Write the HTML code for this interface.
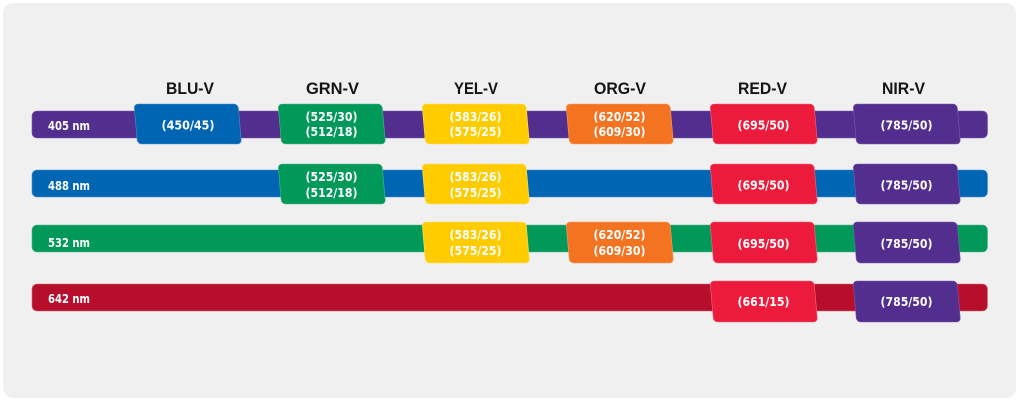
<!DOCTYPE html>
<html><head><meta charset="utf-8">
<style>
html,body{margin:0;padding:0;background:#fff;}
svg{display:block;}
.h{font-family:"Liberation Sans",sans-serif;font-weight:bold;font-size:16.5px;fill:#141414;}
.b{font-family:"DejaVu Sans","Liberation Sans",sans-serif;font-weight:bold;font-size:12px;fill:#fff;}
.l{font-family:"DejaVu Sans","Liberation Sans",sans-serif;font-weight:bold;font-size:12px;fill:#fff;}
</style></head>
<body>
<svg width="1024" height="403" viewBox="0 0 1024 403" xmlns="http://www.w3.org/2000/svg">
<rect x="3" y="3" width="1013" height="395" rx="10" fill="#f0f0f0"/>

<!-- headers -->
<text class="h" x="166" y="94" textLength="48" lengthAdjust="spacingAndGlyphs">BLU-V</text>
<text class="h" x="306" y="94" textLength="53" lengthAdjust="spacingAndGlyphs">GRN-V</text>
<text class="h" x="454" y="94" textLength="44" lengthAdjust="spacingAndGlyphs">YEL-V</text>
<text class="h" x="594" y="94" textLength="52" lengthAdjust="spacingAndGlyphs">ORG-V</text>
<text class="h" x="738" y="94" textLength="49" lengthAdjust="spacingAndGlyphs">RED-V</text>
<text class="h" x="882" y="94" textLength="43" lengthAdjust="spacingAndGlyphs">NIR-V</text>

<!-- bars -->
<rect x="32" y="111" width="955.5" height="27" rx="5" fill="#522e8f" stroke="#7a5cab" stroke-width="0.6"/>
<rect x="32" y="170" width="955.5" height="27" rx="5" fill="#0066b3" stroke="#4a8fcb" stroke-width="0.6"/>
<rect x="32" y="225" width="955.5" height="27" rx="5" fill="#00995a" stroke="#4fb888" stroke-width="0.6"/>
<rect x="32" y="284" width="955.5" height="27" rx="5" fill="#b70f2b" stroke="#d46a7a" stroke-width="0.6"/>

<text class="l" x="48" y="130" textLength="42" lengthAdjust="spacingAndGlyphs">405 nm</text>
<text class="l" x="48" y="190" textLength="42" lengthAdjust="spacingAndGlyphs">488 nm</text>
<text class="l" x="48" y="247" textLength="42" lengthAdjust="spacingAndGlyphs">532 nm</text>
<text class="l" x="48" y="303" textLength="42" lengthAdjust="spacingAndGlyphs">642 nm</text>

<!-- Row 1 boxes (T=104,H=40) -->
<g transform="translate(134,104) skewX(5)"><rect width="104" height="40" rx="4" fill="#0066b3" stroke="#4a8fcb" stroke-width="0.6"/></g>
<text class="b" x="161.5" y="129.5" textLength="53" lengthAdjust="spacingAndGlyphs">(450/45)</text>

<g transform="translate(278,104) skewX(5)"><rect width="104" height="40" rx="4" fill="#00995a" stroke="#4fb888" stroke-width="0.6"/></g>
<text class="b" x="305.5" y="121" textLength="52" lengthAdjust="spacingAndGlyphs">(525/30)</text>
<text class="b" x="305.5" y="136" textLength="52" lengthAdjust="spacingAndGlyphs">(512/18)</text>

<g transform="translate(422,104) skewX(5)"><rect width="104" height="40" rx="4" fill="#ffcc00" stroke="#ffe066" stroke-width="0.6"/></g>
<text class="b" x="449.5" y="121" textLength="52" lengthAdjust="spacingAndGlyphs">(583/26)</text>
<text class="b" x="449.5" y="136" textLength="52" lengthAdjust="spacingAndGlyphs">(575/25)</text>

<g transform="translate(566,104) skewX(5)"><rect width="104" height="40" rx="4" fill="#f47321" stroke="#f8a06a" stroke-width="0.6"/></g>
<text class="b" x="593.5" y="121" textLength="52" lengthAdjust="spacingAndGlyphs">(620/52)</text>
<text class="b" x="593.5" y="136" textLength="52" lengthAdjust="spacingAndGlyphs">(609/30)</text>

<g transform="translate(710,104) skewX(5)"><rect width="104" height="40" rx="4" fill="#ec1a3b" stroke="#f26a80" stroke-width="0.6"/></g>
<text class="b" x="737.5" y="129.5" textLength="52" lengthAdjust="spacingAndGlyphs">(695/50)</text>

<g transform="translate(853,104) skewX(5)"><rect width="104" height="40" rx="4" fill="#522e8f" stroke="#7a5cab" stroke-width="0.6"/></g>
<text class="b" x="880.5" y="129.5" textLength="52" lengthAdjust="spacingAndGlyphs">(785/50)</text>

<!-- Row 2 boxes (T=164,H=40) -->
<g transform="translate(278,164) skewX(5)"><rect width="104" height="40" rx="4" fill="#00995a" stroke="#4fb888" stroke-width="0.6"/></g>
<text class="b" x="305.5" y="181" textLength="52" lengthAdjust="spacingAndGlyphs">(525/30)</text>
<text class="b" x="305.5" y="197" textLength="52" lengthAdjust="spacingAndGlyphs">(512/18)</text>

<g transform="translate(422,164) skewX(5)"><rect width="104" height="40" rx="4" fill="#ffcc00" stroke="#ffe066" stroke-width="0.6"/></g>
<text class="b" x="449.5" y="181" textLength="52" lengthAdjust="spacingAndGlyphs">(583/26)</text>
<text class="b" x="449.5" y="197" textLength="52" lengthAdjust="spacingAndGlyphs">(575/25)</text>

<g transform="translate(710,164) skewX(5)"><rect width="104" height="40" rx="4" fill="#ec1a3b" stroke="#f26a80" stroke-width="0.6"/></g>
<text class="b" x="737.5" y="189.5" textLength="52" lengthAdjust="spacingAndGlyphs">(695/50)</text>

<g transform="translate(853,164) skewX(5)"><rect width="104" height="40" rx="4" fill="#522e8f" stroke="#7a5cab" stroke-width="0.6"/></g>
<text class="b" x="880.5" y="189.5" textLength="52" lengthAdjust="spacingAndGlyphs">(785/50)</text>

<!-- Row 3 boxes (T=222,H=41) -->
<g transform="translate(422,222) skewX(5)"><rect width="104" height="41" rx="4" fill="#ffcc00" stroke="#ffe066" stroke-width="0.6"/></g>
<text class="b" x="449.5" y="239" textLength="52" lengthAdjust="spacingAndGlyphs">(583/26)</text>
<text class="b" x="449.5" y="255" textLength="52" lengthAdjust="spacingAndGlyphs">(575/25)</text>

<g transform="translate(566,222) skewX(5)"><rect width="104" height="41" rx="4" fill="#f47321" stroke="#f8a06a" stroke-width="0.6"/></g>
<text class="b" x="593.5" y="239" textLength="52" lengthAdjust="spacingAndGlyphs">(620/52)</text>
<text class="b" x="593.5" y="255" textLength="52" lengthAdjust="spacingAndGlyphs">(609/30)</text>

<g transform="translate(710,222) skewX(5)"><rect width="104" height="41" rx="4" fill="#ec1a3b" stroke="#f26a80" stroke-width="0.6"/></g>
<text class="b" x="737.5" y="248" textLength="52" lengthAdjust="spacingAndGlyphs">(695/50)</text>

<g transform="translate(853,222) skewX(5)"><rect width="104" height="41" rx="4" fill="#522e8f" stroke="#7a5cab" stroke-width="0.6"/></g>
<text class="b" x="880.5" y="248" textLength="52" lengthAdjust="spacingAndGlyphs">(785/50)</text>

<!-- Row 4 boxes (T=281,H=41) -->
<g transform="translate(710,281) skewX(5)"><rect width="104" height="41" rx="4" fill="#ec1a3b" stroke="#f26a80" stroke-width="0.6"/></g>
<text class="b" x="737.5" y="306" textLength="52" lengthAdjust="spacingAndGlyphs">(661/15)</text>

<g transform="translate(853,281) skewX(5)"><rect width="104" height="41" rx="4" fill="#522e8f" stroke="#7a5cab" stroke-width="0.6"/></g>
<text class="b" x="880.5" y="306" textLength="52" lengthAdjust="spacingAndGlyphs">(785/50)</text>
</svg>
</body></html>
